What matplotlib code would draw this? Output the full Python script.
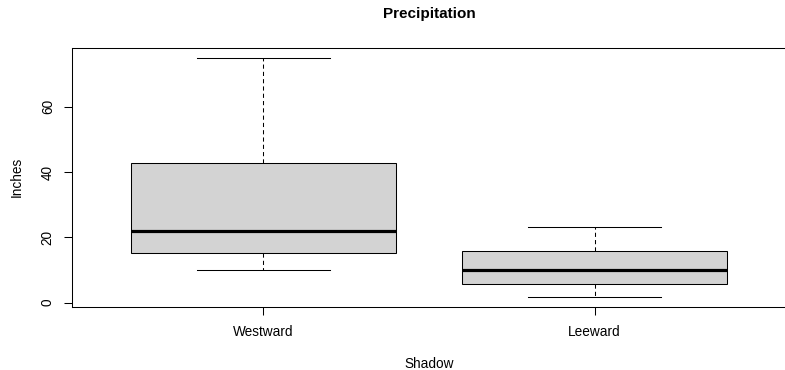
import matplotlib.pyplot as plt

plt.rcParams['font.family'] = ['Liberation Sans', 'DejaVu Sans']

# boxplot statistics
groups = ['Westward', 'Leeward']
whisker_low = [10.0, 1.7]
box_low = [15.1, 5.8]
medians = [21.9, 9.9]
box_high = [42.7, 15.9]
whisker_high = [74.8, 23.3]
y_ticks = [0, 20, 40, 60]

stats = []
for i, name in enumerate(groups):
    stats.append({
        'label': name,
        'whislo': whisker_low[i],
        'q1': box_low[i],
        'med': medians[i],
        'q3': box_high[i],
        'whishi': whisker_high[i],
        'fliers': [],
    })

fig = plt.figure(figsize=(7.85, 3.7), dpi=100)
ax = fig.add_axes([71.5 / 785, 63.3 / 370, 715 / 785, 258.7 / 370])

ax.bxp(stats, positions=[1, 2], widths=0.8, patch_artist=True,
       boxprops=dict(facecolor='#d3d3d3', edgecolor='black', linewidth=0.75),
       medianprops=dict(color='black', linewidth=2.3),
       whiskerprops=dict(color='black', linewidth=0.75, linestyle=(0, (4, 3))),
       capprops=dict(color='black', linewidth=0.75),
       capwidths=0.4)

ax.set_xlim(0.42, 2.58)
ax.set_ylim(-1.22, 77.96)
ax.set_yticks(y_ticks)
ax.set_yticklabels([str(t) for t in y_ticks], rotation=90, va='center')
ax.tick_params(axis='both', length=6, width=0.75, labelsize=9.8, direction='out')
ax.tick_params(axis='y', pad=6)
ax.tick_params(axis='x', pad=7)
for s in ax.spines.values():
    s.set_linewidth(0.75)
ax.spines['right'].set_visible(False)  # falls just outside the picture

ax.set_xlabel('Shadow', fontsize=9.8, labelpad=13)
ax.set_ylabel('Inches', fontsize=9.8, labelpad=12)
fig.text(429 / 785, 1 - 14 / 370, 'Precipitation', fontsize=11, fontweight='bold',
         ha='center', va='center')

fig.savefig('out.png', dpi=100)
